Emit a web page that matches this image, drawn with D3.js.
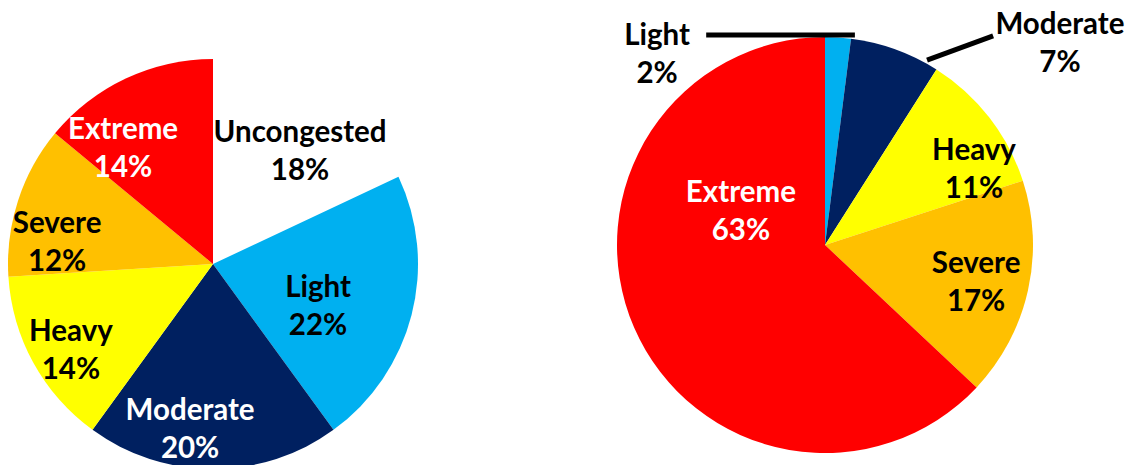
<!DOCTYPE html>
<html>
<head>
<meta charset="utf-8">
<script src="https://cdn.jsdelivr.net/npm/d3@7"></script>
<style>
  html, body { margin: 0; padding: 0; background: #fff; }
  svg { display: block; }
  text { font-family: Lato, "Open Sans", sans-serif; font-weight: 700; }
</style>
</head>
<body>
<svg id="chart" width="1133" height="465"></svg>
<script>
// Share of congestion levels, two pies
const leftCategories = ["Uncongested", "Light", "Moderate", "Heavy", "Severe", "Extreme"];
const leftValues = [18, 22, 20, 14, 12, 14];

const rightCategories = ["Light", "Moderate", "Heavy", "Severe", "Extreme"];
const rightValues = [2, 7, 11, 17, 63];

// Colours per congestion level
const palette = {
  Uncongested: "#FFFFFF",
  Light: "#00B0F0",
  Moderate: "#002060",
  Heavy: "#FFFF00",
  Severe: "#FFC000",
  Extreme: "#FF0000"
};

// Label layout: angle (deg, clockwise from 12 o'clock), distance as fraction of radius, text colour
const leftLabelLayout = {
  Uncongested: { angle: 37.6, dist: 0.696, fill: "#000" },
  Light:       { angle: 111.8, dist: 0.552, fill: "#000" },
  Moderate:    { angle: 187.9, dist: 0.813, fill: "#fff" },
  Heavy:       { angle: 238.8, dist: 0.810, fill: "#000" },
  Severe:      { angle: 278.0, dist: 0.768, fill: "#000" },
  Extreme:     { angle: 322.2, dist: 0.716, fill: "#fff" }
};
const rightLabelLayout = {
  Light:    { angle: 318.7, dist: 1.223, fill: "#000", leader: [[8.1, 1.02], [330.5, 1.16]] },
  Moderate: { angle: 49.3, dist: 1.49, fill: "#000", leader: [[28.9, 1.015], [38.8, 1.29]] },
  Heavy:    { angle: 63.0, dist: 0.804, fill: "#000" },
  Severe:   { angle: 103.8, dist: 0.748, fill: "#000" },
  Extreme:  { angle: 292.0, dist: 0.436, fill: "#fff" }
};

const svg = d3.select("#chart");

function polar(angleDeg, r) {
  const a = angleDeg * Math.PI / 180;
  return [r * Math.sin(a), -r * Math.cos(a)];
}

function drawPie(cx, cy, radius, categories, values, layout) {
  const data = categories.map((c, i) => ({ category: c, value: values[i] }));
  const pie = d3.pie().value(d => d.value).sort(null);
  const arc = d3.arc().innerRadius(0).outerRadius(radius);
  const g = svg.append("g").attr("transform", `translate(${cx},${cy})`);

  g.selectAll("path.slice")
    .data(pie(data))
    .join("path")
    .attr("class", "slice")
    .attr("d", arc)
    .attr("fill", d => palette[d.data.category]);

  // leader lines for small slices
  data.forEach(d => {
    const L = layout[d.category];
    if (L.leader) {
      const pts = L.leader.map(([a, f]) => polar(a, f * radius));
      g.append("line")
        .attr("x1", pts[0][0]).attr("y1", pts[0][1])
        .attr("x2", pts[1][0]).attr("y2", pts[1][1])
        .attr("stroke", "#000")
        .attr("stroke-width", 5);
    }
  });

  const labels = g.selectAll("text.label")
    .data(data)
    .join("text")
    .attr("class", "label")
    .attr("text-anchor", "middle")
    .attr("font-size", 29.5)
    .attr("fill", d => layout[d.category].fill)
    .attr("transform", d => {
      const L = layout[d.category];
      const [x, y] = polar(L.angle, L.dist * radius);
      return `translate(${x},${y})`;
    });
  labels.append("tspan").attr("x", 0).attr("y", -9).text(d => d.category);
  labels.append("tspan").attr("x", 0).attr("y", 29).text(d => d.value + "%");
}

drawPie(213, 264, 205, leftCategories, leftValues, leftLabelLayout);
drawPie(825, 245, 208, rightCategories, rightValues, rightLabelLayout);
</script>
</body>
</html>
